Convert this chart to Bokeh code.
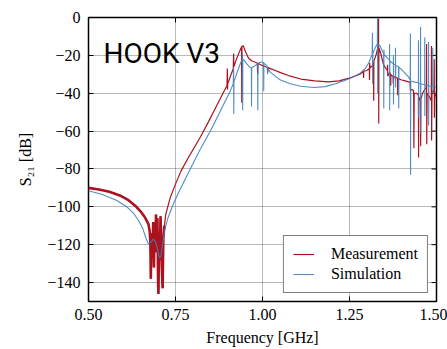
from bokeh.plotting import figure
from bokeh.models import (ColumnDataSource, FixedTicker, Range1d,
                          Legend, LegendItem, Label)
from bokeh.embed import file_html
from bokeh.resources import INLINE

# ---------------- data ----------------
x_ticks = [0.50, 0.75, 1.00, 1.25, 1.50]
x_tick_labels = ["0.50", "0.75", "1.00", "1.25", "1.50"]
y_ticks = [0, -20, -40, -60, -80, -100, -120, -140]
y_tick_labels = ["0", "\u221220", "\u221240", "\u221260", "\u221280",
                 "\u2212100", "\u2212120", "\u2212140"]

meas_freq = [0.500, 0.530, 0.560, 0.590, 0.615, 0.635, 0.650, 0.662, 0.672,
             0.676, 0.678, 0.679, 0.681, 0.684, 0.686, 0.688, 0.690, 0.692,
             0.694, 0.696, 0.698, 0.700, 0.701, 0.703, 0.705, 0.707, 0.709,
             0.711, 0.713, 0.715, 0.718, 0.722, 0.735, 0.750, 0.766, 0.790,
             0.822, 0.845, 0.870, 0.888, 0.898, 0.899, 0.8995, 0.900, 0.910,
             0.916, 0.917, 0.9175, 0.925, 0.935, 0.940, 0.9405, 0.941, 0.945,
             0.952, 0.960, 0.970, 0.985, 0.986, 0.987, 1.000, 1.014, 1.015,
             1.016, 1.030, 1.050, 1.080, 1.110, 1.150, 1.190, 1.220, 1.250,
             1.280, 1.290, 1.2905, 1.291, 1.300, 1.307, 1.3075, 1.308, 1.309,
             1.316, 1.319, 1.3195, 1.320, 1.326, 1.330, 1.333, 1.3335, 1.334,
             1.3345, 1.340, 1.345, 1.348, 1.355, 1.359, 1.3595, 1.360, 1.365,
             1.368, 1.3685, 1.369, 1.375, 1.376, 1.377, 1.388, 1.3885, 1.389,
             1.400, 1.410, 1.420, 1.424, 1.425, 1.430, 1.434, 1.4345, 1.435,
             1.436, 1.443, 1.448, 1.4485, 1.449, 1.454, 1.4545, 1.455, 1.460,
             1.466, 1.471, 1.4715, 1.472, 1.473, 1.480, 1.485, 1.4855, 1.486,
             1.487, 1.493, 1.4935, 1.494, 1.495, 1.500]
meas_db = [-90.0, -90.8, -92.0, -94.0, -96.5, -99.5, -102.5, -105.5, -109.0,
           -113, -120, -138, -114, -126, -108, -132, -112, -124,
           -104, -121, -106, -140, -146, -113, -128, -105, -122,
           -134, -143, -117, -110, -104, -95, -88, -81, -73,
           -63, -55, -46, -39.5, -36, -27, -38, -35, -30,
           -27, -19, -26, -22, -17.5, -15.5, -45, -15.2, -15,
           -18.5, -21.5, -23, -24, -30, -24.2, -25.5, -26.3, -29,
           -26.5, -27.5, -29, -31, -32.5, -33.5, -34, -33.5, -32,
           -30, -28.5, -32, -28.3, -28, -27, -33, -24, -26.5,
           -25.5, -24, -44, -23, -20, -17, -15, -0.5, -56,
           -16, -19, -23, -25, -27, -28, -25, -31, -29,
           -30, -36, -30.2, -31, -35, -31.2, -32, -41, -32.3,
           -33, -33.5, -34, -34, -38.5, -38, -38.5, -43, -69,
           -40, -40, -41, -74, -42, -44, -68, -43, -40,
           -38, -37, -14, -67, -40, -42, -44, -15, -65,
           -40, -38, -22, -53, -40, -42]

sim_freq = [0.500, 0.540, 0.580, 0.610, 0.630, 0.645, 0.657, 0.666, 0.672,
            0.678, 0.686, 0.693, 0.699, 0.704, 0.708, 0.712, 0.718, 0.728,
            0.745, 0.760, 0.787, 0.820, 0.853, 0.880, 0.899, 0.908, 0.916,
            0.917, 0.9175, 0.918, 0.925, 0.937, 0.942, 0.9425, 0.943, 0.9435,
            0.947, 0.955, 0.962, 0.968, 0.9685, 0.969, 0.978, 0.986, 0.9865,
            0.987, 0.995, 1.000, 1.003, 1.0035, 1.004, 1.010, 1.014, 1.0145,
            1.015, 1.023, 1.040, 1.052, 1.080, 1.110, 1.147, 1.180, 1.210,
            1.240, 1.265, 1.280, 1.295, 1.305, 1.315, 1.316, 1.3165, 1.317,
            1.325, 1.330, 1.3305, 1.331, 1.3315, 1.338, 1.345, 1.348, 1.3485,
            1.349, 1.3495, 1.357, 1.362, 1.365, 1.3652, 1.3655, 1.366, 1.376,
            1.3762, 1.3765, 1.377, 1.382, 1.3822, 1.3825, 1.383, 1.391, 1.3915,
            1.392, 1.400, 1.410, 1.420, 1.4245, 1.425, 1.4255, 1.426, 1.435,
            1.448, 1.4482, 1.4485, 1.449, 1.454, 1.4542, 1.4545, 1.455, 1.466,
            1.4662, 1.4665, 1.467, 1.477, 1.4772, 1.4775, 1.478, 1.489, 1.4892,
            1.4895, 1.490, 1.500]
sim_db = [-91.5, -93.5, -96.5, -100, -103.5, -107.5, -112, -117, -119.5,
          -119, -117, -118.5, -123, -127, -126, -121, -113, -106,
          -98, -92, -82, -70, -59, -49, -42, -38.5, -35,
          -26, -51, -34, -30, -24, -22, -19, -49, -22.2,
          -22.5, -24.5, -26, -26.5, -47, -26.5, -25.5, -24.5, -49,
          -24.3, -23.5, -23.5, -24, -39, -24.2, -25, -26, -30,
          -26.5, -29, -31.5, -33, -35, -36.3, -37, -36.5, -35,
          -33, -31, -29.5, -27, -24, -19.5, -8, -35, -19,
          -15.5, -14, -0.5, -40, -14, -15, -18, -19, -48,
          -17, -19.5, -21, -22, -22.5, -14, -49, -23, -24.5,
          -20, -46, -24.6, -25, -16, -37, -25.3, -26, -48,
          -26.2, -27.5, -29.5, -31.5, -33, -8.5, -83, -33.5, -34,
          -34.5, -12, -53, -35, -35, -5, -61, -35, -35.5,
          -10.5, -52, -35.5, -36, -13, -57, -36, -36.5, -16,
          -40, -36.5, -37]

# ---------------- figure ----------------
RED = "#ad111d"
BLUE = "#3f7fbf"
SERIF = "Liberation Serif"
X0, X1 = 0.5, 1.5
Y0, Y1 = -150, 0

p = figure(width=447, height=349, output_backend="svg", toolbar_location=None,
           x_range=Range1d(X0, X1), y_range=Range1d(Y0, Y1),
           min_border_left=88, min_border_right=11, min_border_top=17,
           min_border_bottom=48, background_fill_color="white",
           border_fill_color="white")

p.outline_line_color = "black"
p.outline_line_width = 1.5

for grid in (p.xgrid, p.ygrid):
    grid.grid_line_color = "#3a3a3a"
    grid.grid_line_dash = "1 1"
    grid.grid_line_width = 0.8
    grid.grid_line_alpha = 0.9
p.xgrid.ticker = FixedTicker(ticks=x_ticks)
p.ygrid.ticker = FixedTicker(ticks=y_ticks)

def style_axis(ax, ticks, labels):
    ax.ticker = FixedTicker(ticks=ticks)
    ax.major_label_overrides = {t: l for t, l in zip(ticks, labels)}
    ax.minor_tick_line_color = None
    ax.major_tick_in = 5
    ax.major_tick_out = 0
    ax.major_tick_line_color = "black"
    ax.major_tick_line_width = 1
    ax.axis_line_color = None
    ax.major_label_text_font = SERIF
    ax.major_label_text_font_size = "16px"
    ax.major_label_text_color = "black"

style_axis(p.xaxis[0], x_ticks, x_tick_labels)
style_axis(p.yaxis[0], y_ticks, y_tick_labels)
p.xaxis[0].major_label_standoff = 7
p.yaxis[0].major_label_standoff = 8

p.xaxis[0].axis_label = "Frequency [GHz]"
p.yaxis[0].axis_label = "S\u2082\u2081 [dB]"
for ax in (p.xaxis[0], p.yaxis[0]):
    ax.axis_label_text_font = SERIF
    ax.axis_label_text_font_size = "16px"
    ax.axis_label_text_font_style = "normal"
    ax.axis_label_text_color = "black"
p.xaxis[0].axis_label_standoff = 6
p.yaxis[0].axis_label_standoff = 10

# inward ticks on the right and top edges, placed at the tick values
tick_dx = (X1 - X0) * 5 / 348
tick_dy = (Y1 - Y0) * 5 / 284
p.segment(x0=[X1] * len(y_ticks), y0=y_ticks,
          x1=[X1 - tick_dx] * len(y_ticks), y1=y_ticks,
          line_color="black", line_width=1)
p.segment(x0=x_ticks, y0=[Y1] * len(x_ticks),
          x1=x_ticks, y1=[Y1 - tick_dy] * len(x_ticks),
          line_color="black", line_width=1)

meas_src = ColumnDataSource(dict(f=meas_freq, db=meas_db))
sim_src = ColumnDataSource(dict(f=sim_freq, db=sim_db))
low = [i for i, f in enumerate(meas_freq) if f <= 0.72]
meas_low = ColumnDataSource(dict(f=[meas_freq[i] for i in low],
                                 db=[meas_db[i] for i in low]))

r_meas = p.line("f", "db", source=meas_src, line_color=RED, line_width=1.2)
p.line("f", "db", source=meas_low, line_color=RED, line_width=2.6)
r_sim = p.line("f", "db", source=sim_src, line_color=BLUE, line_width=1.1,
               line_alpha=0.9)

title = Label(x=0.543, y=-19, text="HOOK V3", text_font="Roboto",
              text_font_size="28px", text_color="black",
              text_baseline="alphabetic", text_align="left")
p.add_layout(title)

legend = Legend(items=[LegendItem(label="Measurement", renderers=[r_meas]),
                       LegendItem(label="Simulation", renderers=[r_sim])],
                location="bottom_right", label_text_font=SERIF,
                label_text_font_size="16px", label_text_color="black",
                glyph_width=21, glyph_height=18, label_height=18,
                label_standoff=17, spacing=2, padding=9, margin=8,
                border_line_color="black", border_line_width=1.2,
                background_fill_color="white", background_fill_alpha=1)
p.add_layout(legend, "center")

open("out.html", "w").write(file_html(p, INLINE))
